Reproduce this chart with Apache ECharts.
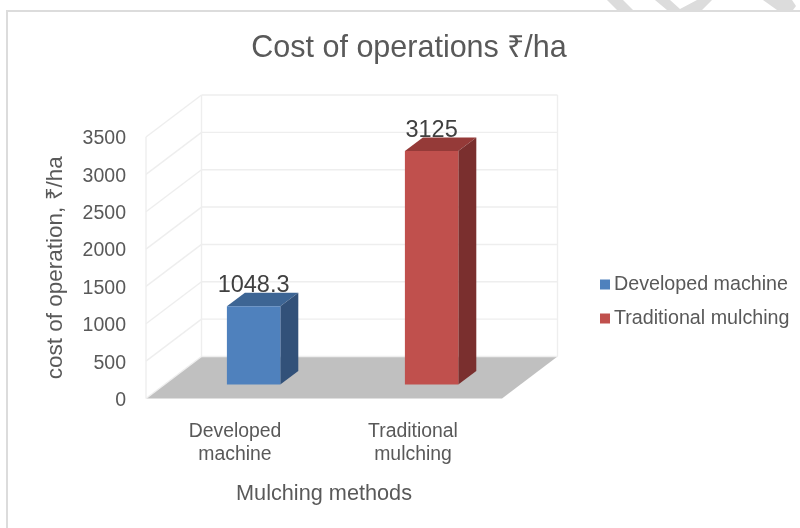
<!DOCTYPE html>
<html>
<head>
<meta charset="utf-8">
<style>
  html, body { margin: 0; padding: 0; background: #fff; }
  #chart { width: 800px; height: 528px; }
</style>
<script src="https://cdn.jsdelivr.net/npm/echarts@6/dist/echarts.min.js"></script>
</head>
<body>
<div id="chart"></div>
<script>
const categories = ['Developed machine', 'Traditional mulching']
const developedValues = [1048.3]
const traditionalValues = [3125]
const yTicks = [0, 500, 1000, 1500, 2000, 2500, 3000, 3500]

const fontName = '"Liberation Sans", Arial, sans-serif'
const textColor = '#595959'
const wallColor = '#eeeeee'
const borderColor = '#dcdcdc'

// 3D look: how far the back wall sits from the front plane, in px
const depthX = 55.5
const depthY = 42
// the bars stand in the middle of the floor
const barShiftX = 18.6
const barShiftY = 14
const barDepthX = 18
const barDepthY = 13.5
const barRatio = 0.3

const poly = (points, fill) => ({
  type: 'polygon',
  shape: { points },
  style: { fill }
})

const line = (p1, p2) => ({
  type: 'line',
  shape: { x1: p1[0], y1: p1[1], x2: p2[0], y2: p2[1] },
  style: { stroke: wallColor, lineWidth: 1.4, fill: null }
})

const plotBase = api => {
  const first = api.coord([0, 0])
  const band = api.size([1, 0])[0]
  return { left: first[0] - band / 2, bottom: first[1], band }
}

const renderFloor = (params, api) => {
  const { left, bottom, band } = plotBase(api)
  const right = left + band * categories.length
  return poly([
    [left, bottom],
    [right, bottom],
    [right + depthX, bottom - depthY],
    [left + depthX, bottom - depthY]
  ], '#c0c0c0')
}

const renderWall = (params, api) => {
  const { left, band } = plotBase(api)
  const right = left + band * categories.length
  const value = api.value(1)
  const y = api.coord([0, value])[1]
  const children = [
    line([left, y], [left + depthX, y - depthY]),
    line([left + depthX, y - depthY], [right + depthX, y - depthY])
  ]
  if (value === yTicks[yTicks.length - 1]) {
    const y0 = api.coord([0, 0])[1]
    children.push(line([left, y], [left, y0]))
    children.push(line([left + depthX, y - depthY], [left + depthX, y0 - depthY]))
    children.push(line([right + depthX, y - depthY], [right + depthX, y0 - depthY]))
  }
  return { type: 'group', children }
}

const renderBar = colors => (params, api) => {
  const index = api.value(0)
  const value = api.value(1)
  const center = api.coord([index, 0])
  const top = api.coord([index, value])
  const w = api.size([1, 0])[0] * barRatio
  const x1 = center[0] - w / 2 + barShiftX
  const x2 = x1 + w
  const y0 = center[1] - barShiftY
  const y1 = top[1] - barShiftY
  return {
    type: 'group',
    children: [
      poly([[x1, y1], [x2, y1], [x2 + barDepthX, y1 - barDepthY], [x1 + barDepthX, y1 - barDepthY]], colors[1]),
      poly([[x2, y1], [x2 + barDepthX, y1 - barDepthY], [x2 + barDepthX, y0 - barDepthY], [x2, y0]], colors[2]),
      poly([[x1, y1], [x2, y1], [x2, y0], [x1, y0]], colors[0]),
      {
        type: 'text',
        z2: 5,
        style: {
          x: (x1 + x2) / 2,
          y: y1 - 9,
          text: String(value),
          fill: '#404040',
          font: '23.5px ' + fontName,
          align: 'center',
          verticalAlign: 'bottom'
        }
      }
    ]
  }
}

const chart = echarts.init(document.getElementById('chart'))

chart.setOption({
  animation: false,
  backgroundColor: '#ffffff',
  textStyle: { fontFamily: fontName },
  title: {
    text: 'Cost of operations ₹/ha',
    left: 404,
    top: 28,
    textAlign: 'center',
    textStyle: { color: textColor, fontSize: 30.5, fontWeight: 'normal', fontFamily: fontName }
  },
  legend: {
    data: categories,
    orient: 'vertical',
    left: 595,
    top: 269,
    itemWidth: 10,
    itemHeight: 10,
    itemGap: 13,
    icon: 'rect',
    textStyle: { color: textColor, fontSize: 19.7, lineHeight: 21, fontFamily: fontName, padding: [0, 0, 0, -1] }
  },
  grid: { left: 146, top: 137, width: 356, height: 261.5 },
  xAxis: {
    type: 'category',
    data: categories,
    name: 'Mulching methods',
    nameLocation: 'middle',
    nameGap: 85,
    nameTextStyle: { color: textColor, fontSize: 21.7, fontFamily: fontName },
    axisLine: { show: false },
    axisTick: { show: false },
    axisLabel: {
      color: textColor,
      fontSize: 19.4,
      lineHeight: 23,
      margin: 22,
      formatter: value => value.replace(' ', '\n')
    }
  },
  yAxis: {
    type: 'value',
    min: 0,
    max: 3500,
    interval: 500,
    name: 'cost of operation, ₹/ha',
    nameLocation: 'middle',
    nameGap: 79,
    nameTextStyle: { color: textColor, fontSize: 22.5, fontFamily: fontName },
    axisLine: { show: false },
    axisTick: { show: false },
    splitLine: { show: false },
    // small line box so the numbers sit a little under their tick position
    axisLabel: { color: textColor, fontSize: 19.5, margin: 20, verticalAlign: 'top', lineHeight: 4, formatter: value => String(value) }
  },
  series: [
    { type: 'custom', name: 'floor', renderItem: renderFloor, data: [[0, 0]], encode: { x: 0, y: 1 }, z: 1, silent: true },
    { type: 'custom', name: 'wall', renderItem: renderWall, data: yTicks.map(v => [0, v]), encode: { x: 0, y: 1 }, z: 2, silent: true },
    {
      type: 'custom',
      name: categories[0],
      renderItem: renderBar(['#4f81bd', '#3d6594', '#325179']),
      itemStyle: { color: '#4f81bd' },
      data: developedValues.map(v => [0, v]),
      encode: { x: 0, y: 1 },
      z: 3
    },
    {
      type: 'custom',
      name: categories[1],
      renderItem: renderBar(['#c0504d', '#953a38', '#7a2f2e']),
      itemStyle: { color: '#c0504d' },
      data: traditionalValues.map(v => [1, v]),
      encode: { x: 0, y: 1 },
      z: 3
    }
  ],
  graphic: [
    {
      type: 'polyline',
      shape: { points: [[7, 528], [7, 11], [800, 11]] },
      style: { stroke: borderColor, lineWidth: 2, fill: null },
      z: 10
    },
    // bits of the page watermark above the frame
    { type: 'polygon', shape: { points: [[607, 0], [623, 0], [633, 10], [617, 10]] }, style: { fill: borderColor }, z: 9 },
    { type: 'polygon', shape: { points: [[655, 0], [670, 0], [680, 9], [697, 0], [712, 0], [702, 10], [667, 10]] }, style: { fill: borderColor }, z: 9 },
    { type: 'polygon', shape: { points: [[763, 0], [792, 0], [796, 6], [793, 10], [777, 10]] }, style: { fill: borderColor }, z: 9 }
  ]
})
</script>
</body>
</html>
